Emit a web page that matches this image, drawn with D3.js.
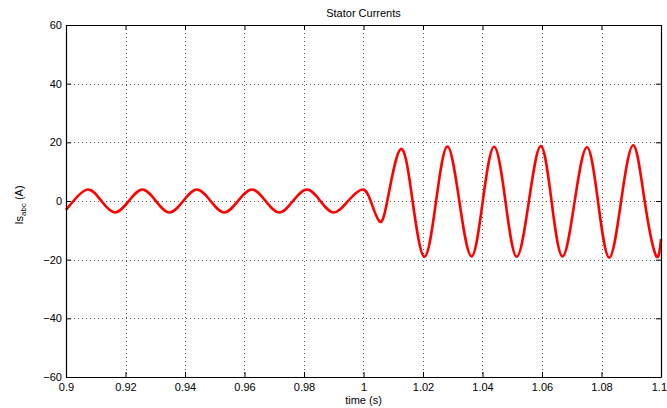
<!DOCTYPE html>
<html>
<head>
<meta charset="utf-8">
<script src="https://cdn.jsdelivr.net/npm/d3@7/dist/d3.min.js"></script>
<style>
  html, body { margin: 0; padding: 0; background: #fff; }
  svg { display: block; font-family: "Liberation Sans", Arial, Helvetica, sans-serif; }
</style>
</head>
<body>
<svg id="chart" width="667" height="408"></svg>
<script>
// ---- data (extrema and zero crossings) ----
const times = [
  0.9000, 0.9025, 0.9073, 0.9119, 0.9165, 0.9211, 0.9257, 0.9302, 0.9348, 0.9394,
  0.9440, 0.9486, 0.9532, 0.9578, 0.9625, 0.9671, 0.9717, 0.9763, 0.9810, 0.9855,
  0.9900, 0.9948, 0.9996, 1.0024, 1.0053, 1.0080, 1.0125, 1.0165, 1.0205, 1.0244,
  1.0282, 1.0322, 1.0363, 1.0401, 1.0439, 1.0477, 1.0515, 1.0556, 1.0596, 1.0632,
  1.0669, 1.0710, 1.0751, 1.0788, 1.0826, 1.0866, 1.0907, 1.0945, 1.0983, 1.1000
];
const currents = [
  -3.0, 0, 3.9, 0, -3.9, 0, 3.9, 0, -3.9, 0,
  3.9, 0, -3.9, 0, 3.9, 0, -3.9, 0, 3.9, 0,
  -3.9, 0, 3.9, 0, -6.9, 0, 17.7, 0, -19.0, 0,
  18.6, 0, -18.9, 0, 18.5, 0, -19.0, 0, 18.7, 0,
  -18.9, 0, 18.3, 0, -19.3, 0, 19.0, 0, -18.6, -13.0
];
const xTicks = [0.9, 0.92, 0.94, 0.96, 0.98, 1.0, 1.02, 1.04, 1.06, 1.08, 1.1];
const xTickLabels = ["0.9", "0.92", "0.94", "0.96", "0.98", "1", "1.02", "1.04", "1.06", "1.08", "1.1"];
const yTicks = [-60, -40, -20, 0, 20, 40, 60];
const yTickLabels = ["\u221260", "\u221240", "\u221220", "0", "20", "40", "60"];
const titleText = "Stator Currents";
const xLabelText = "time (s)";

// ---- layout ----
const svg = d3.select("#chart");
const L = 66, R = 661, T = 25, B = 377;
const x = d3.scaleLinear().domain([0.9, 1.1]).range([L, R]);
const y = d3.scaleLinear().domain([-60, 60]).range([B, T]);

// grid
const grid = svg.append("g").attr("stroke", "#555").attr("stroke-width", 1)
  .attr("stroke-dasharray", "1,3").attr("shape-rendering", "crispEdges");
grid.selectAll("line.gx").data(xTicks.slice(1, -1)).enter().append("line")
  .attr("x1", d => Math.round(x(d)) + 0.5).attr("x2", d => Math.round(x(d)) + 0.5)
  .attr("y1", T).attr("y2", B);
grid.selectAll("line.gy").data(yTicks.slice(1, -1)).enter().append("line")
  .attr("y1", d => Math.round(y(d)) + 0.5).attr("y2", d => Math.round(y(d)) + 0.5)
  .attr("x1", L).attr("x2", R);

// curve
const pts = times.map((t, i) => [t, currents[i]]);
svg.append("path").datum(pts)
  .attr("fill", "none").attr("stroke", "#ff0000").attr("stroke-width", 2.6)
  .attr("stroke-linejoin", "round")
  .attr("d", d3.line().x(d => x(d[0])).y(d => y(d[1])).curve(d3.curveNatural));

// axes
const fmtX = d => xTickLabels[xTicks.indexOf(d)];
const fmtY = d => yTickLabels[yTicks.indexOf(d)];
const styleAxis = g => {
  g.select(".domain").attr("stroke", "#000").attr("stroke-width", 1.2);
  g.selectAll(".tick line").attr("stroke", "#000").attr("stroke-width", 1);
  g.selectAll(".tick text").attr("fill", "#000").attr("font-size", 11);
};
const bottomAxis = svg.append("g").attr("transform", `translate(0,${B})`)
  .call(d3.axisBottom(x).tickValues(xTicks).tickFormat(fmtX).tickSizeInner(-5).tickSizeOuter(0).tickPadding(6))
  .call(styleAxis);
// keep the last label inside the picture, as in the reference
bottomAxis.selectAll(".tick text").filter(d => d === xTicks[xTicks.length - 1])
  .attr("text-anchor", "end").attr("x", 5.5);
svg.append("g").attr("transform", `translate(0,${T})`)
  .call(d3.axisTop(x).tickValues(xTicks).tickFormat("").tickSizeInner(-5).tickSizeOuter(0))
  .call(styleAxis);
svg.append("g").attr("transform", `translate(${L},0)`)
  .call(d3.axisLeft(y).tickValues(yTicks).tickFormat(fmtY).tickSizeInner(-5).tickSizeOuter(0).tickPadding(4))
  .call(styleAxis);
svg.append("g").attr("transform", `translate(${R},0)`)
  .call(d3.axisRight(y).tickValues(yTicks).tickFormat("").tickSizeInner(-5).tickSizeOuter(0))
  .call(styleAxis);
svg.selectAll("g").attr("font-family", null);

// title and labels
svg.append("text").attr("x", (L + R) / 2).attr("y", 17).attr("text-anchor", "middle")
  .attr("font-size", 11).text(titleText);
svg.append("text").attr("x", (L + R) / 2).attr("y", 404).attr("text-anchor", "middle")
  .attr("font-size", 11).text(xLabelText);
const yl = svg.append("text").attr("transform", "translate(22.5,205) rotate(-90)")
  .attr("text-anchor", "middle").attr("font-size", 11);
yl.append("tspan").text("Is");
yl.append("tspan").attr("font-size", 8).attr("dy", 3).text("abc");
yl.append("tspan").attr("dy", -3).text(" (A)");
</script>
</body>
</html>
